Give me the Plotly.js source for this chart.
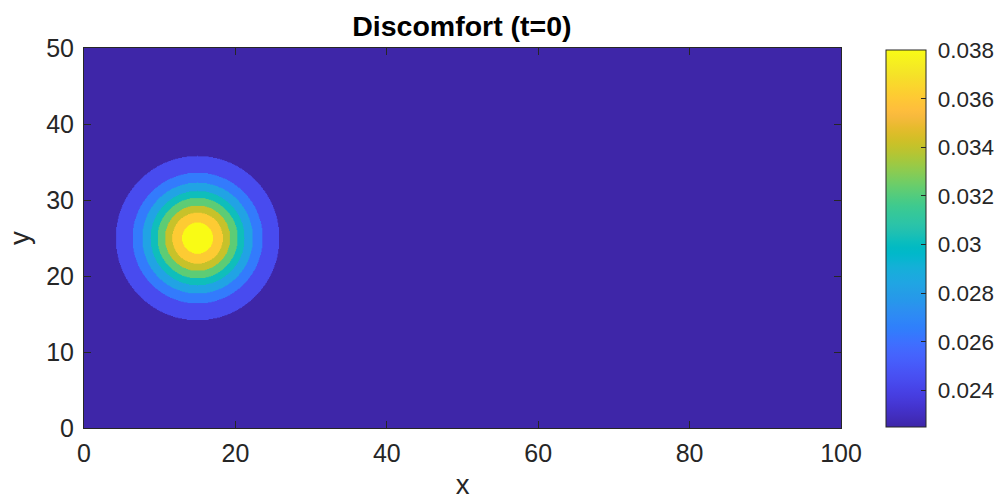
<!DOCTYPE html>
<html>
<head>
<meta charset="utf-8">
<script src="https://cdn.plot.ly/plotly-3.0.1.min.js"></script>
<style>html,body{margin:0;padding:0;background:#fff;}#chart{width:1003px;height:500px;}</style>
</head>
<body>
<div id="chart"></div>
<script>
// ---- data ----
const centerX = 15;
const centerY = 25;
// value of each filled band, from the background (outermost) to the core
const bandValue = [0.0225, 0.0244, 0.0264, 0.0283, 0.0302, 0.0322, 0.0341, 0.0361, 0.038];
// outer radius of each band (x/y units); background band is unbounded
const bandOuterRadius = [Infinity, 10.8, 8.6, 7.3, 6.2, 5.3, 4.3, 3.35, 2.05];
const xTicks = [0, 20, 40, 60, 80, 100];
const yTicks = [0, 10, 20, 30, 40, 50];
const cbTicks = [0.024, 0.026, 0.028, 0.03, 0.032, 0.034, 0.036, 0.038];
const cbTickText = ['0.024', '0.026', '0.028', '0.03', '0.032', '0.034', '0.036', '0.038'];
const zRange = [0.0225, 0.038];

// ---- grid (sampling of the field) ----
const step = 0.1;
const xs = [], ys = [];
for (let i = 0; i <= 1000; i++) xs.push(+(i * step).toFixed(4));
for (let i = 0; i <= 500; i++) ys.push(+(i * step).toFixed(4));
const z = ys.map(y => xs.map(x => {
  const r = Math.hypot(x - centerX, y - centerY);
  let v = bandValue[0];
  for (let j = 1; j < bandValue.length; j++) if (r < bandOuterRadius[j]) v = bandValue[j];
  return v;
}));

// MATLAB parula colormap (64 entries)
const parula = [
[0.2422,0.1504,0.6603],[0.2504,0.1650,0.7076],[0.2578,0.1818,0.7511],[0.2647,0.1978,0.7952],
[0.2706,0.2147,0.8364],[0.2751,0.2342,0.8710],[0.2783,0.2559,0.8991],[0.2803,0.2782,0.9221],
[0.2813,0.3006,0.9414],[0.2810,0.3228,0.9579],[0.2795,0.3447,0.9717],[0.2760,0.3667,0.9829],
[0.2699,0.3892,0.9906],[0.2602,0.4123,0.9952],[0.2440,0.4358,0.9988],[0.2206,0.4603,0.9973],
[0.1963,0.4847,0.9892],[0.1834,0.5074,0.9798],[0.1786,0.5289,0.9682],[0.1764,0.5499,0.9520],
[0.1687,0.5703,0.9359],[0.1540,0.5902,0.9218],[0.1460,0.6091,0.9079],[0.1380,0.6276,0.8973],
[0.1248,0.6459,0.8883],[0.1113,0.6635,0.8763],[0.0952,0.6798,0.8598],[0.0689,0.6948,0.8394],
[0.0297,0.7082,0.8163],[0.0036,0.7203,0.7917],[0.0067,0.7312,0.7660],[0.0433,0.7411,0.7394],
[0.0964,0.7500,0.7120],[0.1408,0.7584,0.6842],[0.1717,0.7670,0.6554],[0.1938,0.7758,0.6251],
[0.2161,0.7843,0.5923],[0.2470,0.7918,0.5567],[0.2906,0.7973,0.5188],[0.3406,0.8008,0.4789],
[0.3909,0.8029,0.4354],[0.4456,0.8024,0.3909],[0.5044,0.7993,0.3480],[0.5616,0.7942,0.3045],
[0.6174,0.7876,0.2612],[0.6720,0.7793,0.2227],[0.7242,0.7698,0.1910],[0.7738,0.7598,0.1646],
[0.8203,0.7498,0.1535],[0.8634,0.7406,0.1596],[0.9035,0.7330,0.1774],[0.9393,0.7288,0.2100],
[0.9728,0.7298,0.2394],[0.9956,0.7434,0.2371],[0.9970,0.7659,0.2199],[0.9952,0.7893,0.2028],
[0.9892,0.8136,0.1885],[0.9786,0.8386,0.1766],[0.9676,0.8639,0.1643],[0.9610,0.8890,0.1537],
[0.9597,0.9135,0.1423],[0.9628,0.9373,0.1265],[0.9691,0.9606,0.1064],[0.9769,0.9839,0.0805]];
const colorscale = parula.map((c, i) => [i / (parula.length - 1),
  'rgb(' + c.map(v => Math.round(v * 255)).join(',') + ')']);

const axisColor = '#262626';
const font = 'Liberation Sans, Arial, Helvetica, sans-serif';

const trace = {
  type: 'heatmap',
  x: xs, y: ys, z: z,
  zmin: zRange[0], zmax: zRange[1],
  zsmooth: 'fast',
  colorscale: colorscale,
  hoverinfo: 'skip',
  colorbar: {
    thickness: 40, thicknessmode: 'pixels',
    len: 377, lenmode: 'pixels',
    x: 1.0594, xanchor: 'left', xref: 'paper',
    y: 0.4987, yanchor: 'middle',
    xpad: 0, ypad: 0,
    outlinecolor: axisColor, outlinewidth: 1,
    tickmode: 'array', tickvals: cbTicks, ticktext: cbTickText.map(t => '\u00a0' + t),
    ticks: 'inside', ticklen: 5, tickcolor: axisColor,
    tickfont: {family: font, size: 22.5, color: axisColor}
  }
};

const layout = {
  width: 1003, height: 500,
  margin: {l: 84, r: 162, t: 48, b: 72, autoexpand: false},
  paper_bgcolor: '#ffffff', plot_bgcolor: '#ffffff',
  title: {text: '<b>Discomfort (t=0)</b>', x: 0.4605, xanchor: 'center', y: 0.948, yanchor: 'middle',
          font: {family: font, size: 28.5, color: '#000000'}},
  xaxis: {
    range: [0, 100], tickmode: 'array', tickvals: xTicks,
    ticks: 'inside', ticklen: 7, tickcolor: axisColor, tickwidth: 1,
    showline: true, linecolor: axisColor, linewidth: 1, mirror: 'ticks',
    showgrid: false, zeroline: false, ticklabelstandoff: 3, automargin: false,
    tickfont: {family: font, size: 25, color: axisColor},
    title: {text: 'x', font: {family: font, size: 27.5, color: axisColor}, standoff: 9}
  },
  yaxis: {
    range: [0, 50], tickmode: 'array', tickvals: yTicks,
    ticks: 'inside', ticklen: 7, tickcolor: axisColor, tickwidth: 1,
    showline: true, linecolor: axisColor, linewidth: 1, mirror: 'ticks',
    showgrid: false, zeroline: false, ticklabelstandoff: 4, automargin: false,
    tickfont: {family: font, size: 25, color: axisColor},
    title: {text: 'y', font: {family: font, size: 27.5, color: axisColor}, standoff: 8}
  }
};

Plotly.newPlot('chart', [trace], layout, {staticPlot: true, displayModeBar: false});
</script>
</body>
</html>
